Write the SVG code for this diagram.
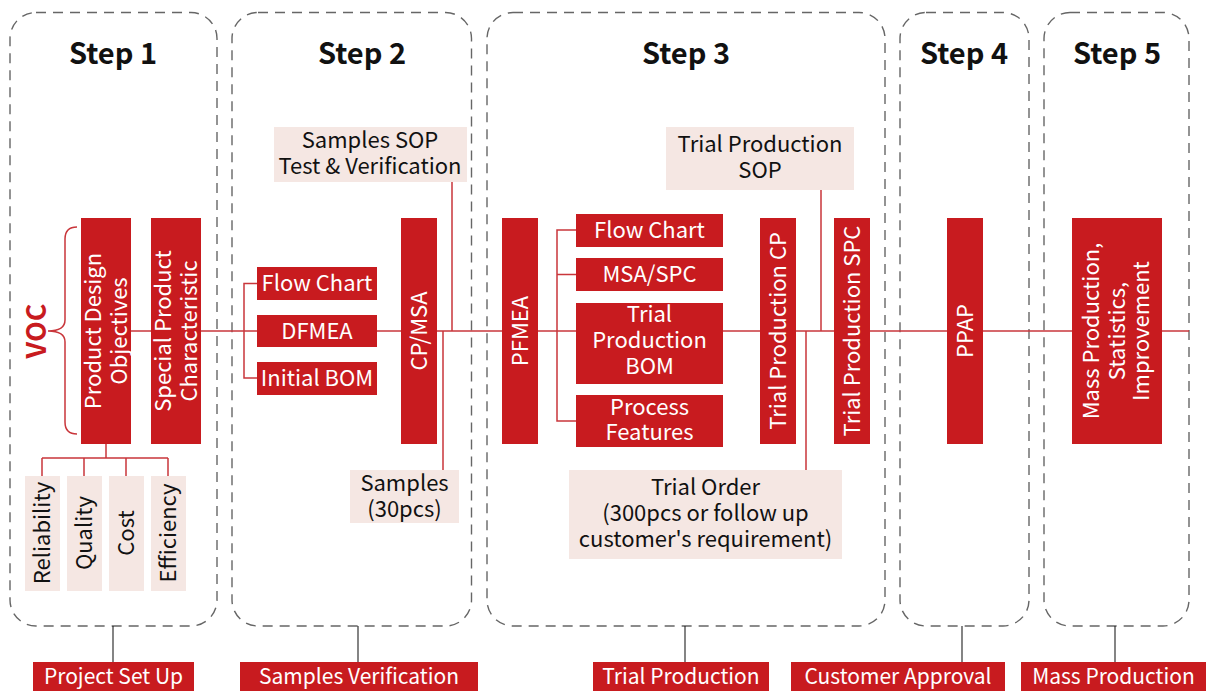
<svg xmlns="http://www.w3.org/2000/svg" width="1208" height="691" viewBox="0 0 1208 691">
<style>
.frame{fill:none;stroke:#666;stroke-width:1.4;stroke-dasharray:10 7}
.red{fill:#c81b1f}
.pink{fill:#f5e7e3}
.wt{fill:#fff;font-family:"Noto Sans CJK SC","Noto Sans",sans-serif;font-size:22px;text-anchor:middle}
.bt{fill:#111;font-family:"Noto Sans CJK SC","Noto Sans",sans-serif;font-size:22px;text-anchor:middle}
.lb{fill:#fff;font-family:"Noto Sans CJK SC","Noto Sans",sans-serif;font-size:21px;text-anchor:middle}
.hd{fill:#111;font-family:"Noto Sans CJK SC","Noto Sans",sans-serif;font-size:29px;font-weight:bold;text-anchor:middle}
.ln{fill:none;stroke:#c9363b;stroke-width:1.5}
.bl{fill:none;stroke:#222;stroke-width:1.1}
</style>
<rect width="1208" height="691" fill="#fff"/>
<g id="frames">
<rect class="frame" x="10" y="12.5" width="207" height="613.5" rx="26"/>
<rect class="frame" x="232" y="12.5" width="239.5" height="613.5" rx="26"/>
<rect class="frame" x="487" y="12.5" width="398" height="613.5" rx="26"/>
<rect class="frame" x="900" y="12.5" width="129" height="613.5" rx="26"/>
<rect class="frame" x="1044" y="12.5" width="145" height="613.5" rx="26"/>
</g>
<g id="headers">
<text class="hd" x="113" y="64">Step 1</text>
<text class="hd" x="362" y="64">Step 2</text>
<text class="hd" x="686" y="64">Step 3</text>
<text class="hd" x="964" y="64">Step 4</text>
<text class="hd" x="1117" y="64">Step 5</text>
</g>
<g id="connectors">
<line class="ln" x1="106" y1="331" x2="1189" y2="331"/>
<path class="ln" d="M77,227 Q65,227 65,239 L65,320 Q65,331 48,331 Q65,331 65,342 L65,422 Q65,434 77,434"/>
<path class="ln" d="M106,444 V458 M42,458 H168 M42,458 V476 M84,458 V476 M126,458 V476 M168,458 V476"/>
<path class="ln" d="M257,283.5 H244 V378 H257"/>
<path class="ln" d="M452,181 V331 M443,331 V470"/>
<path class="ln" d="M576,230 H557 V421 H576 M557,274.5 H576"/>
<path class="ln" d="M821,189 V331 M806,331 V470"/>
<path class="bl" d="M113,626 V662 M358,626 V662 M685,626 V662 M962,626 V662 M1115,626 V662"/>
</g>
<g id="voc">
<text x="34" y="331" transform="rotate(-90 34 331)" fill="#c81b1f" font-family="Noto Sans CJK SC,Noto Sans,sans-serif" font-size="27" font-weight="bold" text-anchor="middle" dominant-baseline="central">VOC</text>
</g>
<g id="product-design">
<rect class="red" x="81" y="218" width="50" height="226"/>
<text class="wt" transform="translate(106 331) rotate(-90)"><tspan x="0" y="-5">Product Design</tspan><tspan x="0" y="21">Objectives</tspan></text>
</g>
<g id="special-product">
<rect class="red" x="151" y="218" width="50" height="226"/>
<text class="wt" transform="translate(176 331) rotate(-90)"><tspan x="0" y="-5">Special Product</tspan><tspan x="0" y="21">Characteristic</tspan></text>
</g>
<g id="reliability">
<rect class="pink" x="25" y="476" width="35" height="115"/>
<text class="bt" transform="translate(42.5 533) rotate(-90)" y="7.5">Reliability</text>
</g>
<g id="quality">
<rect class="pink" x="67" y="476" width="35" height="115"/>
<text class="bt" transform="translate(84.5 533) rotate(-90)" y="7.5">Quality</text>
</g>
<g id="cost">
<rect class="pink" x="109" y="476" width="35" height="115"/>
<text class="bt" transform="translate(126.5 533) rotate(-90)" y="7.5">Cost</text>
</g>
<g id="efficiency">
<rect class="pink" x="151" y="476" width="35" height="115"/>
<text class="bt" transform="translate(168.5 533) rotate(-90)" y="7.5">Efficiency</text>
</g>
<g id="flow-chart-2">
<rect class="red" x="257" y="267" width="120" height="33"/>
<text class="wt" x="317" y="291">Flow Chart</text>
</g>
<g id="dfmea">
<rect class="red" x="257" y="315" width="120" height="32"/>
<text class="wt" x="317" y="338.5">DFMEA</text>
</g>
<g id="initial-bom">
<rect class="red" x="257" y="362" width="120" height="33"/>
<text class="wt" x="317" y="386">Initial BOM</text>
</g>
<g id="cp-msa">
<rect class="red" x="401" y="218" width="36" height="226"/>
<text class="wt" transform="translate(419 331) rotate(-90)" y="7.5">CP/MSA</text>
</g>
<g id="samples-sop">
<rect class="pink" x="274" y="127" width="193" height="55"/>
<text class="bt" x="370" y="147.5">Samples SOP</text>
<text class="bt" x="370" y="173.5">Test &amp; Verification</text>
</g>
<g id="samples">
<rect class="pink" x="350" y="470" width="109" height="53"/>
<text class="bt" x="404.5" y="490.5">Samples</text>
<text class="bt" x="404.5" y="516.5">(30pcs)</text>
</g>
<g id="pfmea">
<rect class="red" x="502" y="218" width="36" height="226"/>
<text class="wt" transform="translate(520 331) rotate(-90)" y="7.5">PFMEA</text>
</g>
<g id="flow-chart-3">
<rect class="red" x="576" y="214" width="147" height="33"/>
<text class="wt" x="649.5" y="238">Flow Chart</text>
</g>
<g id="msa-spc">
<rect class="red" x="576" y="258" width="147" height="33"/>
<text class="wt" x="649.5" y="282">MSA/SPC</text>
</g>
<g id="trial-bom">
<rect class="red" x="576" y="303" width="147" height="81"/>
<text class="wt" x="649.5" y="322">Trial</text>
<text class="wt" x="649.5" y="348">Production</text>
<text class="wt" x="649.5" y="374">BOM</text>
</g>
<g id="process-features">
<rect class="red" x="576" y="395" width="147" height="52"/>
<text class="wt" x="649.5" y="415">Process</text>
<text class="wt" x="649.5" y="440">Features</text>
</g>
<g id="trial-cp">
<rect class="red" x="760" y="218" width="36" height="226"/>
<text class="wt" transform="translate(778 331) rotate(-90)" y="7.5">Trial Production CP</text>
</g>
<g id="trial-spc">
<rect class="red" x="834" y="218" width="36" height="226"/>
<text class="wt" transform="translate(852 331) rotate(-90)" y="7.5">Trial Production SPC</text>
</g>
<g id="trial-sop">
<rect class="pink" x="666" y="127" width="188" height="63"/>
<text class="bt" x="760" y="152">Trial Production</text>
<text class="bt" x="760" y="178">SOP</text>
</g>
<g id="trial-order">
<rect class="pink" x="569" y="470" width="273" height="89"/>
<text class="bt" x="705.5" y="495">Trial Order</text>
<text class="bt" x="705.5" y="521">(300pcs or follow up</text>
<text class="bt" x="705.5" y="547">customer's requirement)</text>
</g>
<g id="ppap">
<rect class="red" x="947" y="218" width="36" height="226"/>
<text class="wt" transform="translate(965 331) rotate(-90)" y="7.5">PPAP</text>
</g>
<g id="mass-production">
<rect class="red" x="1072" y="218" width="90" height="226"/>
<text class="wt" transform="translate(1117 331) rotate(-90)"><tspan x="0" y="-18">Mass Production,</tspan><tspan x="0" y="7.5">Statistics,</tspan><tspan x="0" y="32">Improvement</tspan></text>
</g>
<g id="phase-labels">
<rect class="red" x="33" y="662" width="161" height="29"/>
<text class="lb" x="113.5" y="684">Project Set Up</text>
<rect class="red" x="240" y="662" width="238" height="29"/>
<text class="lb" x="359" y="684">Samples Verification</text>
<rect class="red" x="593" y="662" width="176" height="29"/>
<text class="lb" x="681" y="684">Trial Production</text>
<rect class="red" x="791" y="662" width="214" height="29"/>
<text class="lb" x="898" y="684">Customer Approval</text>
<rect class="red" x="1021" y="662" width="185" height="29"/>
<text class="lb" x="1113.5" y="684">Mass Production</text>
</g>
</svg>
